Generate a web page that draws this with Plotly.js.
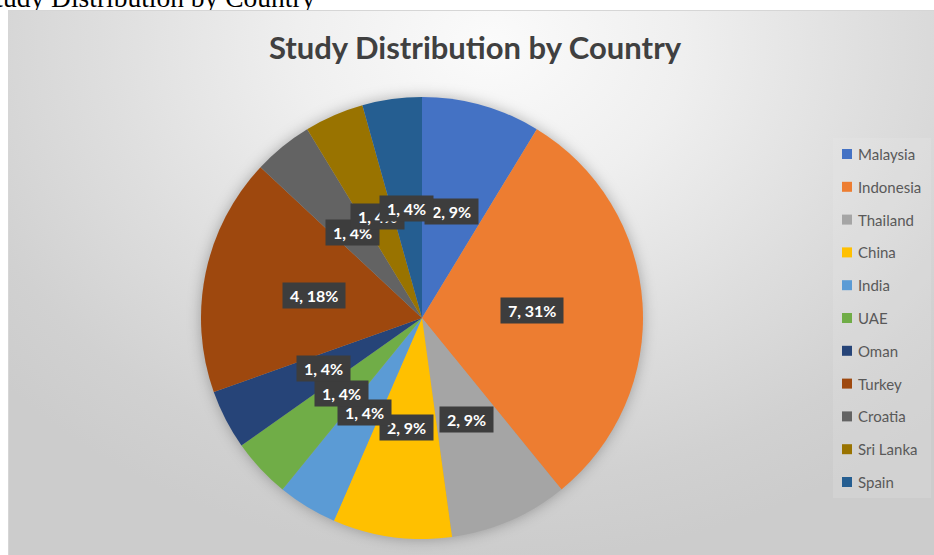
<!DOCTYPE html>
<html>
<head>
<meta charset="utf-8">
<script src="https://cdn.plot.ly/plotly-3.0.1.min.js"></script>
<style>
  html, body { margin: 0; padding: 0; background: #ffffff; overflow: hidden; width: 934px; height: 555px; }
  #caption { position: absolute; left: -20px; top: -16px; font-family: "Liberation Serif", "Times New Roman", serif; font-size: 27.5px; line-height: 1; white-space: nowrap; color: #000; }
  #box { position: absolute; left: 8px; top: 10px; width: 926px; height: 545px;
         background: radial-gradient(ellipse 70% 95% at 52% 6%, #fbfbfb 0%, #efefef 30%, #dedede 60%, #d1d1d1 85%, #cccccc 100%);
         border-top: 1px solid #d6d6d6; border-left: 1px solid #d6d6d6; box-sizing: border-box; }
  #chart { position: absolute; left: 0; top: 0; width: 926px; height: 545px; }
  #chart .pielayer { filter: drop-shadow(0px 0px 7px rgba(0,0,0,0.28)); }
</style>
</head>
<body>
<div id="caption">Study Distribution by Country</div>
<div id="box"><div id="chart"></div></div>
<script>
// ---- data ----
const countries = ["Malaysia", "Indonesia", "Thailand", "China", "India", "UAE", "Oman", "Turkey", "Croatia", "Sri Lanka", "Spain"];
const studies = [2, 7, 2, 2, 1, 1, 1, 4, 1, 1, 1];
const percents = [9, 31, 9, 9, 4, 4, 4, 18, 4, 4, 4];
const colors = ["#4472C4", "#ED7D31", "#A5A5A5", "#FFC000", "#5B9BD5", "#70AD47", "#264478", "#9E480E", "#636363", "#997300", "#255E91"];
const chartTitle = "Study Distribution by Country";

// ---- layout geometry (pixels inside the chart div) ----
const W = 926, H = 545;
const cx = 413, cy = 307, R = 221;

const domain = {
  x: [(cx - R) / W, (cx + R) / W],
  y: [1 - (cy + R) / H, 1 - (cy - R) / H]
};

const trace = {
  type: "pie",
  labels: countries,
  values: studies,
  marker: { colors: colors, line: { width: 0 } },
  sort: false,
  direction: "clockwise",
  rotation: 0,
  textinfo: "none",
  hoverinfo: "label+value+percent",
  showlegend: false,
  domain: domain
};

// data labels at half radius along each slice's mid-angle
const total = studies.reduce((a, b) => a + b, 0);
const annotations = [];
let cum = 0;
studies.forEach((v, i) => {
  const mid = (cum + v / 2) / total * 2 * Math.PI;
  cum += v;
  const px = cx + 0.5 * R * Math.sin(mid);
  const py = cy - 0.5 * R * Math.cos(mid);
  annotations.push({
    xref: "paper", yref: "paper",
    x: px / W, y: 1 - py / H,
    xanchor: "center", yanchor: "middle",
    showarrow: false,
    text: "\u00a0" + v + ", " + percents[i] + "%\u00a0",
    font: { family: "Lato, 'Open Sans', sans-serif", size: 16, color: "#ffffff", weight: 700 },
    bgcolor: "#3d3d3d",
    borderpad: 3
  });
});

// legend (custom, built from the category and colour arrays)
const shapes = [];
const legX0 = 824, legX1 = 922, legY0 = 127, legY1 = 487;
shapes.push({
  type: "rect", xref: "paper", yref: "paper",
  x0: legX0 / W, x1: legX1 / W, y0: 1 - legY1 / H, y1: 1 - legY0 / H,
  fillcolor: "rgba(240,240,240,0.18)", line: { width: 0 }, layer: "below"
});
const legStep = 32.8, legFirst = 143, sq = 10, sqX = 838, txtX = 848;
countries.forEach((name, i) => {
  const yc = legFirst + i * legStep;
  shapes.push({
    type: "rect", xref: "paper", yref: "paper",
    x0: (sqX - sq / 2) / W, x1: (sqX + sq / 2) / W,
    y0: 1 - (yc + sq / 2) / H, y1: 1 - (yc - sq / 2) / H,
    fillcolor: colors[i], line: { width: 0 }
  });
  annotations.push({
    xref: "paper", yref: "paper",
    x: txtX / W, y: 1 - yc / H,
    xanchor: "left", yanchor: "middle",
    showarrow: false,
    text: name,
    font: { family: "Lato, 'Open Sans', sans-serif", size: 15, color: "#595959" },
    borderpad: 0
  });
});

const layout = {
  width: W, height: H,
  margin: { l: 0, r: 0, t: 0, b: 0 },
  paper_bgcolor: "rgba(0,0,0,0)",
  plot_bgcolor: "rgba(0,0,0,0)",
  title: {
    text: "<b>" + chartTitle + "</b>",
    font: { family: "Lato, 'Open Sans', sans-serif", size: 31, color: "#404040" },
    x: 466 / W, xref: "paper", xanchor: "center",
    y: 1 - 37 / H, yref: "container", yanchor: "middle"
  },
  showlegend: false,
  annotations: annotations,
  shapes: shapes
};

Plotly.newPlot("chart", [trace], layout, { displayModeBar: false, staticPlot: true });
</script>
</body>
</html>
